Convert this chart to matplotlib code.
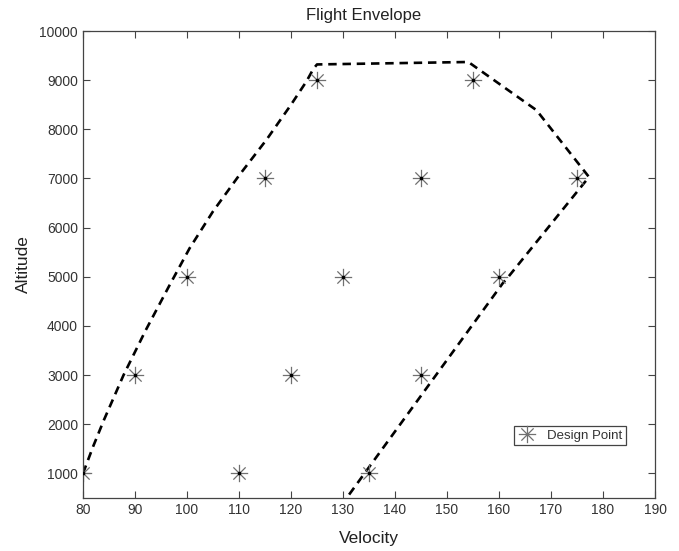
import numpy as np
import matplotlib
matplotlib.use("Agg")
import matplotlib.pyplot as plt
from matplotlib.path import Path

plt.rcParams['font.family'] = ['Liberation Sans', 'DejaVu Sans']

# envelope boundary
env_v = [80, 82.0, 84.0, 87.8, 92.0, 96.5, 100.5, 105.0, 110.0, 115.3, 120.0, 123.0, 124.3, 125.0,
         154.1, 167.2, 177.3, 161.8, 160.8, 130.7]
env_h = [1000, 1560, 2080, 3000, 3900, 4800, 5580, 6330, 7060, 7790, 8500, 8980, 9230, 9320,
         9370, 8390, 7030, 5000, 4880, 500]

# design points
pt_v = [80, 90, 100, 110, 115, 120, 125, 130, 135, 145, 145, 155, 160, 175]
pt_h = [1000, 3000, 5000, 1000, 7000, 3000, 9000, 5000, 1000, 3000, 7000, 9000, 5000, 7000]

x_ticks = list(range(80, 191, 10))
y_ticks = list(range(1000, 10001, 1000))

# MATLAB-like asterisk: + and x together
r = np.sqrt(0.5)
verts = [(-1, 0), (1, 0), (0, -1), (0, 1), (-r, -r), (r, r), (-r, r), (r, -r)]
codes = [Path.MOVETO, Path.LINETO] * 4
asterisk = Path(verts, codes)

fig = plt.figure(figsize=(6.79, 5.51), dpi=100)
ax = fig.add_axes([0.1222, 0.0962, 0.8425, 0.8475])

grey = '#444444'
ax.plot(env_v, env_h, color='black', linewidth=1.9, linestyle=(0, (3.2, 2.2)))
ax.plot(pt_v, pt_h, linestyle='none', marker=asterisk, markersize=12.5,
        markerfacecolor='none', markeredgecolor='#707070', markeredgewidth=0.9,
        label='Design Point')
ax.plot(pt_v, pt_h, linestyle='none', marker='s', markersize=1.8,
        color='black', zorder=3)

ax.set_xlim(80, 190)
ax.set_ylim(500, 10000)
ax.set_xticks(x_ticks)
ax.set_yticks(y_ticks)
ax.tick_params(direction='in', top=True, right=True, length=5, width=0.8,
               colors=grey, labelsize=10, labelcolor='#333333')
for s in ax.spines.values():
    s.set_color(grey)
    s.set_linewidth(0.9)

ax.set_title('Flight Envelope', fontsize=12, color='#222222', pad=8, x=0.49)
ax.set_xlabel('Velocity', fontsize=12.5, color='#222222', labelpad=10)
ax.set_ylabel('Altitude', fontsize=12.5, color='#222222', labelpad=6)

leg = ax.legend(handles=[ax.lines[1]], loc='lower right', bbox_to_anchor=(0.949, 0.113),
                fancybox=False, framealpha=1, edgecolor=grey, fontsize=9.5,
                borderpad=0.25, handlelength=1.5, handletextpad=0.8,
                borderaxespad=0)
leg.get_frame().set_linewidth(0.9)
for t in leg.get_texts():
    t.set_color('#333333')

fig.savefig('out.png', dpi=100)
